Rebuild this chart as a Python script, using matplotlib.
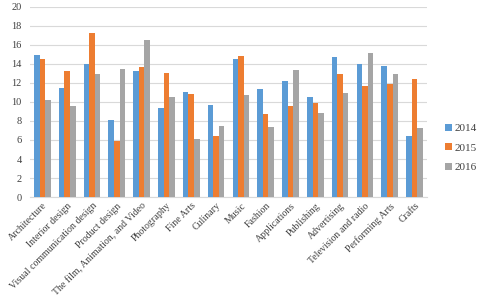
import numpy as np
import matplotlib
matplotlib.use("Agg")
import matplotlib.pyplot as plt

categories = ["Architecture", "Interior design", "Visual communication design",
              "Product design", "The film, Animation, and Video", "Photography",
              "Fine Arts", "Culinary", "Music", "Fashion", "Applications",
              "Publishing", "Advertising", "Television and radio",
              "Performing Arts", "Crafts"]
v2014 = [14.94, 11.42, 14.02, 8.08, 13.29, 9.35, 11.04, 9.70, 14.55, 11.35,
         12.23, 10.47, 14.69, 14.02, 13.74, 6.43]
v2015 = [14.48, 13.29, 17.29, 5.94, 13.67, 13.08, 10.83, 6.43, 14.83, 8.75,
         9.56, 9.88, 12.93, 11.67, 11.92, 12.44]
v2016 = [10.23, 9.56, 12.93, 13.43, 16.48, 10.54, 6.15, 7.45, 10.69, 7.38,
         13.36, 8.79, 10.90, 15.18, 12.93, 7.31]
years = ["2014", "2015", "2016"]
colors = ["#5B9BD5", "#ED7D31", "#A5A5A5"]

plt.rcParams["font.family"] = ["Liberation Serif", "DejaVu Serif"]

fig = plt.figure(figsize=(4.8, 2.99), dpi=100)
ax = fig.add_axes([0.0625, 0.341, 0.827, 0.636])

x = np.arange(len(categories))
w = 0.225
for i, (vals, lab, c) in enumerate(zip([v2014, v2015, v2016], years, colors)):
    ax.bar(x + (i - 1) * w, vals, w, color=c, label=lab, zorder=3)

ax.set_xlim(-0.5, len(categories) - 0.5)
ax.set_ylim(0, 20)
ax.set_yticks(range(0, 21, 2))
ax.yaxis.grid(True, color="#D9D9D9", linewidth=0.8, zorder=0)
for s in ["top", "right", "left"]:
    ax.spines[s].set_visible(False)
ax.spines["bottom"].set_color("#D9D9D9")
ax.tick_params(axis="both", length=0, labelsize=7.5, colors="#404040")
ax.tick_params(axis="y", pad=6)
ax.tick_params(axis="x", labelsize=7.1, pad=3)
ax.set_xticks(x)
ax.set_xticklabels(categories, rotation=45, ha="right", rotation_mode="anchor")

leg = fig.legend(loc="center left", bbox_to_anchor=(0.927, 0.505), frameon=False,
                 fontsize=8, handlelength=0.6, handleheight=0.6,
                 handletextpad=0.25, labelspacing=0.9, borderpad=0,
                 borderaxespad=0)
for t in leg.get_texts():
    t.set_color("#404040")

fig.savefig("out.png", dpi=100)
